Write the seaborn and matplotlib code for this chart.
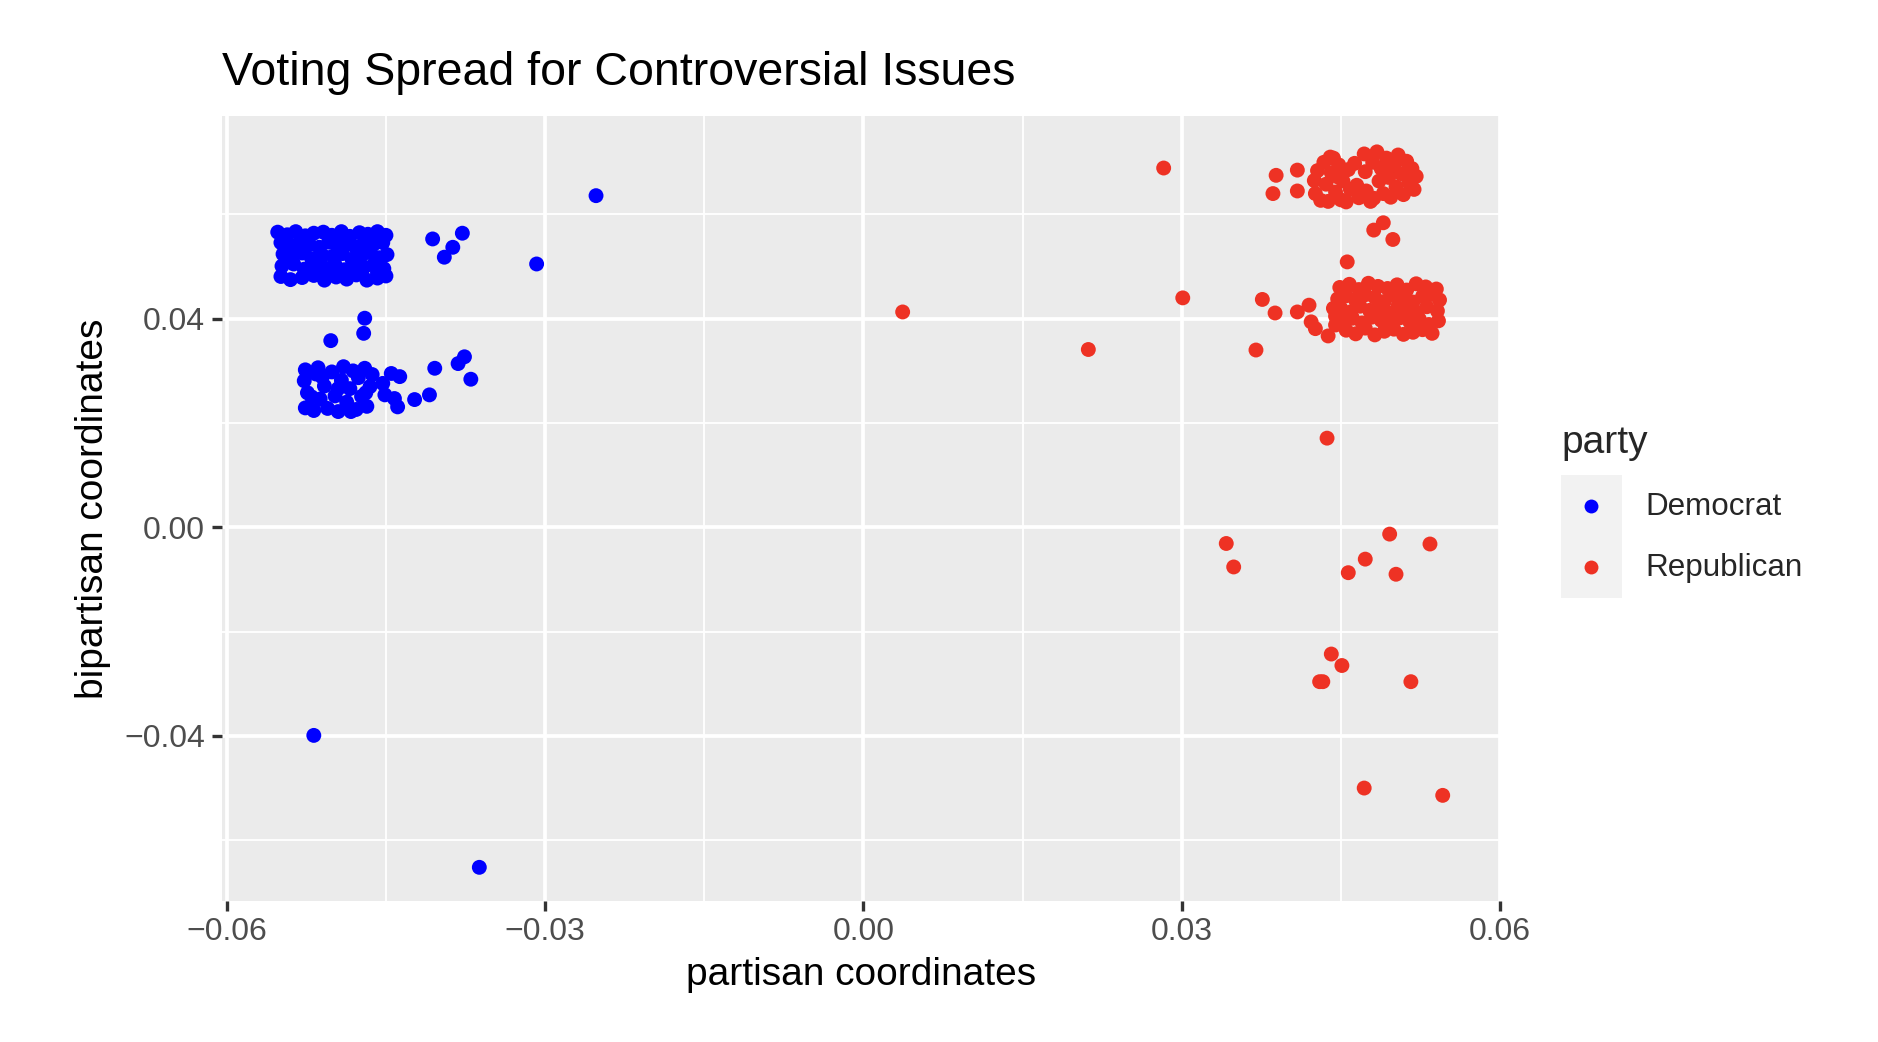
import numpy as np
import pandas as pd
import matplotlib
matplotlib.use('Agg')
import matplotlib.pyplot as plt
import seaborn as sns

# Democrat members: dense top block, lower block with trailing points, outliers
dem_x = [
    -0.0552, -0.0543, -0.0535, -0.0526, -0.0518, -0.0509, -0.0501, -0.0492, -0.0484, -0.0475, -0.0467, -0.0458, -0.0450,
    -0.0549, -0.0540, -0.0531, -0.0522, -0.0513, -0.0504, -0.0496, -0.0487, -0.0479, -0.0470, -0.0462, -0.0453,
    -0.0547, -0.0538, -0.0529, -0.0520, -0.0510, -0.0500, -0.0491, -0.0482, -0.0473, -0.0465, -0.0456, -0.0449,
    -0.0548, -0.0537, -0.0527, -0.0517, -0.0507, -0.0498, -0.0489, -0.0480, -0.0471, -0.0462, -0.0452,
    -0.0549, -0.0540, -0.0529, -0.0518, -0.0508, -0.0497, -0.0487, -0.0478, -0.0468, -0.0458, -0.0450,
    -0.0533, -0.0505, -0.0475, -0.0458, -0.0525, -0.0490,
    -0.0526, -0.0527, -0.0524, -0.0526, -0.0518, -0.0516, -0.0512, -0.0508, -0.0505, -0.0501,
    -0.0498, -0.0495, -0.0492, -0.0490, -0.0487, -0.0484, -0.0481, -0.0478, -0.0476, -0.0473,
    -0.0470, -0.0468, -0.0465, -0.0463, -0.0514, -0.0520, -0.0495, -0.0483, -0.0469, -0.0510,
    -0.0453, -0.0451, -0.0445, -0.0437, -0.0442, -0.0439, -0.0423, -0.0409, -0.0404, -0.0382, -0.0376, -0.0370,
    -0.0470, -0.0471, -0.0502,
    -0.0518, -0.0362, -0.0252, -0.0308, -0.0406, -0.0378, -0.0387, -0.0395,
]
dem_y = [
    0.0566, 0.0561, 0.0567, 0.0559, 0.0564, 0.0566, 0.0560, 0.0567, 0.0558, 0.0565, 0.0562, 0.0567, 0.0560,
    0.0546, 0.0540, 0.0548, 0.0542, 0.0537, 0.0547, 0.0541, 0.0545, 0.0538, 0.0548, 0.0542, 0.0546,
    0.0524, 0.0518, 0.0526, 0.0515, 0.0522, 0.0520, 0.0525, 0.0514, 0.0521, 0.0527, 0.0517, 0.0523,
    0.0501, 0.0505, 0.0495, 0.0503, 0.0497, 0.0504, 0.0494, 0.0502, 0.0498, 0.0503, 0.0496,
    0.0481, 0.0475, 0.0479, 0.0483, 0.0474, 0.0480, 0.0476, 0.0484, 0.0474, 0.0478, 0.0482,
    0.0532, 0.0488, 0.0532, 0.0488, 0.0487, 0.0553,
    0.0302, 0.0281, 0.0258, 0.0229, 0.0224, 0.0294, 0.0246, 0.0271, 0.0228, 0.0298,
    0.0252, 0.0222, 0.0282, 0.0308, 0.0240, 0.0266, 0.0300, 0.0226, 0.0287, 0.0251,
    0.0305, 0.0232, 0.0270, 0.0293, 0.0306, 0.0250, 0.0266, 0.0222, 0.0258, 0.0288,
    0.0276, 0.0254, 0.0295, 0.0289, 0.0247, 0.0231, 0.0245, 0.0254, 0.0305, 0.0314, 0.0327, 0.0284,
    0.0401, 0.0372, 0.0358,
    -0.0399, -0.0652, 0.0636, 0.0505, 0.0553, 0.0564, 0.0537, 0.0518,
]

# Republican members: two dense blocks, scattered points below
rep_x = [
    0.0389, 0.0386, 0.0409, 0.0409,
    0.0425, 0.0426, 0.0428, 0.0431, 0.0434, 0.0436, 0.0438, 0.0441, 0.0443, 0.0445, 0.0448, 0.0450,
    0.0452, 0.0455, 0.0457, 0.0459, 0.0440, 0.0447,
    0.0463, 0.0465, 0.0467, 0.0472, 0.0473, 0.0474, 0.0480, 0.0481, 0.0484, 0.0486, 0.0488, 0.0490, 0.0493,
    0.0495, 0.0497, 0.0500, 0.0502, 0.0504, 0.0507, 0.0509, 0.0512, 0.0514, 0.0517, 0.0519, 0.0521, 0.0478,
    0.0481, 0.0490, 0.0499,
    0.0449, 0.0458, 0.0467, 0.0476, 0.0485, 0.0494, 0.0503, 0.0512, 0.0521, 0.0530, 0.0540,
    0.0447, 0.0455, 0.0464, 0.0473, 0.0482, 0.0491, 0.0500, 0.0509, 0.0518, 0.0527, 0.0536, 0.0543,
    0.0450, 0.0459, 0.0468, 0.0477, 0.0486, 0.0495, 0.0504, 0.0513, 0.0522, 0.0531, 0.0541,
    0.0452, 0.0461, 0.0470, 0.0479, 0.0488, 0.0497, 0.0506, 0.0515, 0.0524, 0.0533, 0.0542,
    0.0455, 0.0464, 0.0473, 0.0482, 0.0491, 0.0500, 0.0509, 0.0518, 0.0527, 0.0536,
    0.0443, 0.0445,
    0.0456, 0.0376, 0.0388, 0.0409, 0.0420, 0.0422, 0.0426, 0.0438, 0.0370, 0.0445,
    0.0283, 0.0037, 0.0212, 0.0301, 0.0437,
    0.0342, 0.0349, 0.0496, 0.0534, 0.0473, 0.0457, 0.0502,
    0.0441, 0.0451, 0.0430, 0.0433, 0.0516, 0.0472, 0.0546,
]
rep_y = [
    0.0675, 0.0640, 0.0685, 0.0645,
    0.0665, 0.0640, 0.0684, 0.0627, 0.0700, 0.0658, 0.0625, 0.0680, 0.0708, 0.0643, 0.0695, 0.0628,
    0.0664, 0.0624, 0.0686, 0.0648, 0.0710, 0.0672,
    0.0698, 0.0656, 0.0632, 0.0716, 0.0682, 0.0645, 0.0700, 0.0631, 0.0720, 0.0664, 0.0688, 0.0640, 0.0708,
    0.0671, 0.0633, 0.0694, 0.0653, 0.0714, 0.0678, 0.0638, 0.0702, 0.0662, 0.0688, 0.0648, 0.0673, 0.0625,
    0.0570, 0.0584, 0.0552,
    0.0460, 0.0466, 0.0456, 0.0468, 0.0462, 0.0458, 0.0465, 0.0455, 0.0467, 0.0461, 0.0457,
    0.0438, 0.0444, 0.0435, 0.0446, 0.0441, 0.0433, 0.0445, 0.0439, 0.0432, 0.0443, 0.0447, 0.0436,
    0.0420, 0.0413, 0.0424, 0.0416, 0.0422, 0.0411, 0.0425, 0.0417, 0.0412, 0.0423, 0.0415,
    0.0395, 0.0401, 0.0392, 0.0403, 0.0397, 0.0390, 0.0402, 0.0394, 0.0399, 0.0389, 0.0396,
    0.0378, 0.0371, 0.0382, 0.0369, 0.0376, 0.0380, 0.0370, 0.0374, 0.0379, 0.0372,
    0.0420, 0.0405,
    0.0509, 0.0437, 0.0411, 0.0413, 0.0426, 0.0394, 0.0381, 0.0367, 0.0340, 0.0388,
    0.0689, 0.0413, 0.0341, 0.0440, 0.0171,
    -0.0031, -0.0076, -0.0013, -0.0032, -0.0061, -0.0087, -0.0090,
    -0.0243, -0.0265, -0.0296, -0.0296, -0.0296, -0.0500, -0.0514,
]

parties = ['Democrat', 'Republican']
party_colors = {'Democrat': '#0000FF', 'Republican': '#EE3224'}

df = pd.DataFrame({
    'partisan': dem_x + rep_x,
    'bipartisan': dem_y + rep_y,
    'party': ['Democrat'] * len(dem_x) + ['Republican'] * len(rep_x),
})

sns.set_theme(style='darkgrid', rc={'axes.facecolor': '#EBEBEB', 'grid.color': 'white'})
plt.rcParams['font.family'] = ['Liberation Sans', 'DejaVu Sans']

W, H = 1878, 1042
fig = plt.figure(figsize=(W / 100, H / 100), dpi=100)
fig.patch.set_facecolor('white')
ax = fig.add_axes([221.5 / W, 1 - 900.7 / H, (1500 - 221.5) / W, (900.7 - 116.4) / H])

sns.scatterplot(data=df, x='partisan', y='bipartisan', hue='party', palette=party_colors,
                hue_order=parties, s=115, linewidth=0, alpha=1, legend=False, ax=ax)

ax.set_xlim(-0.0605, 0.0598)
ax.set_ylim(-0.0716, 0.0788)
xt = [-0.06, -0.03, 0.0, 0.03, 0.06]
yt = [-0.04, 0.0, 0.04]
ax.set_xticks(xt)
ax.set_xticklabels([f'{v:.2f}'.replace('-', '\u2212') for v in xt])
ax.set_yticks(yt)
ax.set_yticklabels([f'{v:.2f}'.replace('-', '\u2212') for v in yt])
ax.set_xticks([-0.045, -0.015, 0.015, 0.045], minor=True)
ax.set_yticks([-0.06, -0.02, 0.02, 0.06], minor=True)
ax.grid(which='major', color='white', linewidth=2.7)
ax.grid(which='minor', color='white', linewidth=1.35)
ax.set_axisbelow(True)
for sp in ax.spines.values():
    sp.set_visible(False)
ax.tick_params(which='minor', length=0)
ax.tick_params(which='major', length=7, width=2.4, color='#333333', labelsize=23,
               labelcolor='#4D4D4D', pad=5, bottom=True, left=True)

ax.set_xlabel('partisan coordinates', fontsize=28, color='black')
ax.set_ylabel('bipartisan coordinates', fontsize=28, color='black')
ax.xaxis.label.set_va('center')
ax.yaxis.label.set_va('center')
ax.xaxis.set_label_coords(0.5, -0.0947)
ax.yaxis.set_label_coords(-0.1005, 0.5)

fig.text(221.5 / W, 1 - 85 / H, 'Voting Spread for Controversial Issues',
         fontsize=33.5, ha='left', va='baseline', color='black')

# legend
fig.text(1561.7 / W, 1 - 452.7 / H, 'party', fontsize=28, ha='left', va='baseline')
lax = fig.add_axes([1560.7 / W, 1 - 598 / H, 61 / W, 123 / H])
lax.set_facecolor('#F2F2F2')
lax.grid(False)
lax.set_xlim(0, 1)
lax.set_ylim(0, 2)
lax.set_xticks([])
lax.set_yticks([])
for sp in lax.spines.values():
    sp.set_visible(False)
for i, p in enumerate(parties):
    lax.scatter([0.5], [1.5 - i], color=party_colors[p], s=100, linewidth=0)
    fig.text(1645 / W, 1 - (506.7 + 61.6 * i) / H, p, fontsize=22.6, ha='left', va='center')

plt.savefig('out.png', dpi=100)
